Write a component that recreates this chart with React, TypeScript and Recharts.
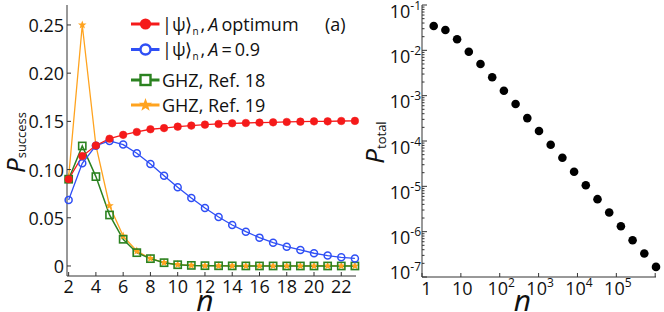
import React from 'react';
import { LineChart, Line, XAxis, YAxis, ScatterChart, Scatter, Legend, Label } from 'recharts';

// ---------- Panel (a) data ----------
const nValues = [2, 3, 4, 5, 6, 7, 8, 9, 10, 11, 12, 13, 14, 15, 16, 17, 18, 19, 20, 21, 22, 23];
const optimumValues = [0.090, 0.114, 0.125, 0.132, 0.136, 0.139, 0.1418, 0.143, 0.1445, 0.1456, 0.1466, 0.1473, 0.148, 0.1483, 0.1487, 0.149, 0.1494, 0.1497, 0.150, 0.150, 0.1504, 0.1505];
const a09Values = [0.0685, 0.1065, 0.1248, 0.1297, 0.1259, 0.117, 0.1058, 0.0937, 0.0816, 0.0705, 0.0602, 0.0508, 0.0425, 0.0356, 0.0294, 0.0242, 0.020, 0.0166, 0.0132, 0.0108, 0.009, 0.0078];
const ghz18Values = [0.090, 0.1245, 0.0927, 0.0529, 0.0277, 0.0138, 0.0076, 0.0034, 0.0013, 0.0006, 0.0003, 0.0002, 0.0001, 0.00005, 0.00003, 0.00002, 0.00001, 0, 0, 0, 0, 0];
const ghz19Values = [0.092, 0.25, 0.125, 0.0625, 0.031, 0.0155, 0.0078, 0.0035, 0.0014, 0.0006, 0.0003, 0.0002, 0.0001, 0.00005, 0.00003, 0.00002, 0.00001, 0, 0, 0, 0, 0];
const nTicks = [2, 4, 6, 8, 10, 12, 14, 16, 18, 20, 22];
const pTicks = [0, 0.05, 0.1, 0.15, 0.2, 0.25];
const pTickLabels = ['0', '0.05', '0.10', '0.15', '0.20', '0.25'];

// ---------- Panel (b) data ----------
const totalN = [2, 4, 8, 16, 32, 64, 128, 256, 512, 1024, 2048, 4096, 8192, 16384, 32768, 65536, 131072, 262144, 524288, 1048576];
const totalP = [0.0343, 0.0281, 0.0175, 0.0093, 0.00499, 0.00254, 0.00128, 6.53e-4, 3.2e-4, 1.66e-4, 8.25e-5, 4.26e-5, 2.09e-5, 1.06e-5, 5.21e-6, 2.65e-6, 1.32e-6, 6.49e-7, 3.3e-7, 1.67e-7];
const logXTicks = [1, 10, 100, 1000, 10000, 100000, 1000000];
const logXBase = ['1', '10', '10', '10', '10', '10', ''];
const logXExp = ['', '', '2', '3', '4', '5', ''];
const logYDecades = [1e-7, 1e-6, 1e-5, 1e-4, 1e-3, 1e-2, 1e-1];
const logYExp = ['-7', '-6', '-5', '-4', '-3', '-2', '-1'];
const minorMult = [2, 3, 4, 5, 6, 7, 8, 9];

const legendLabels = ['|ψ⟩n , A optimum', '|ψ⟩n , A = 0.9', 'GHZ, Ref. 18', 'GHZ, Ref. 19'];

const RED = '#f51a1a';
const BLUE = '#2f4ff5';
const GREEN = '#2b8220';
const ORANGE = '#ffa31f';
const AX = '#333';
const FONT = "'Open Sans', sans-serif";

const tableA = nValues.map((n, i) => ({
  n,
  opt: optimumValues[i],
  a09: a09Values[i],
  g18: ghz18Values[i],
  g19: ghz19Values[i],
}));
const tableB = totalN.map((n, i) => ({ n, p: totalP[i] }));
const logYTicks: number[] = [];
logYDecades.forEach((d, i) => {
  logYTicks.push(d);
  if (i < logYDecades.length - 1) minorMult.forEach((m) => logYTicks.push(d * m));
});

function starPoints(cx: number, cy: number, ro: number, ri: number) {
  const pts: string[] = [];
  for (let k = 0; k < 10; k++) {
    const r = k % 2 === 0 ? ro : ri;
    const a = -Math.PI / 2 + (k * Math.PI) / 5;
    pts.push(`${cx + r * Math.cos(a)},${cy + r * Math.sin(a)}`);
  }
  return pts.join(' ');
}

// ---------- ticks ----------
const LeftYTick = (p: any) => {
  const idx = pTicks.findIndex((t) => Math.abs(t - p.payload.value) < 1e-9);
  return (
    <g>
      <line x1={p.x} y1={p.y} x2={p.x + 4} y2={p.y} stroke={AX} strokeWidth={1} />
      <text x={p.x - 3} y={p.y + 7} textAnchor="end" fontFamily={FONT} fontSize={18} fill="#111">
        {pTickLabels[idx]}
      </text>
    </g>
  );
};
const RightYTick = (p: any) => <line x1={p.x} y1={p.y} x2={p.x - 4} y2={p.y} stroke={AX} strokeWidth={1} />;
const BottomXTick = (p: any) => (
  <g>
    <line x1={p.x} y1={p.y} x2={p.x} y2={p.y - 4} stroke={AX} strokeWidth={1} />
    <text x={p.x} y={p.y + 16.5} textAnchor="middle" fontFamily={FONT} fontSize={18} fill="#111">
      {p.payload.value}
    </text>
  </g>
);
const TopXTick = (p: any) => <line x1={p.x} y1={p.y} x2={p.x} y2={p.y + 4} stroke={AX} strokeWidth={1} />;

const isDecade = (v: number) => logYDecades.some((d) => Math.abs(v / d - 1) < 1e-6);

const LogYTickLeft = (p: any) => {
  const v = p.payload.value;
  const dec = isDecade(v);
  const di = logYDecades.findIndex((d) => Math.abs(v / d - 1) < 1e-6);
  const last = di === 0;
  return (
    <g>
      <line x1={p.x} y1={p.y} x2={p.x + (dec ? 5 : 2.5)} y2={p.y} stroke={AX} strokeWidth={1} />
      {dec && (
        <text x={p.x - 1} y={p.y + (last ? 2 : 12.5)} textAnchor="end" fontFamily={FONT} fontSize={18} fill="#111">
          10<tspan fontSize={12} dy={-8}>{logYExp[di]}</tspan>
        </text>
      )}
    </g>
  );
};
const LogYTickRight = (p: any) => {
  const dec = isDecade(p.payload.value);
  return <line x1={p.x} y1={p.y} x2={p.x - (dec ? 5 : 2.5)} y2={p.y} stroke={AX} strokeWidth={1} />;
};
const LogXTickBottom = (p: any) => {
  const i = logXTicks.findIndex((t) => Math.abs(p.payload.value / t - 1) < 1e-6);
  const cx = i === 0 ? p.x + 4.5 : p.x + (logXExp[i] ? 1.5 : 1.5);
  return (
    <g>
      <line x1={p.x} y1={p.y} x2={p.x} y2={p.y - 4} stroke={AX} strokeWidth={1} />
      {logXBase[i] && (
        <text x={cx} y={p.y + 18} textAnchor="middle" fontFamily={FONT} fontSize={18} fill="#111">
          {logXBase[i]}
          {logXExp[i] && <tspan fontSize={12} dy={-8}>{logXExp[i]}</tspan>}
        </text>
      )}
    </g>
  );
};
const LogXTickTop = (p: any) => <line x1={p.x} y1={p.y} x2={p.x} y2={p.y + 4} stroke={AX} strokeWidth={1} />;

// ---------- dots ----------
const RedDot = (p: any) => <circle key={`r${p.index}`} cx={p.cx} cy={p.cy} r={3.8} fill={RED} stroke={RED} strokeWidth={0.5} />;
const BlueDot = (p: any) => <circle key={`b${p.index}`} cx={p.cx} cy={p.cy} r={3.5} fill="none" stroke={BLUE} strokeWidth={1.5} />;
const GreenDot = (p: any) => (
  <rect key={`g${p.index}`} x={p.cx - 3.6} y={p.cy - 3.6} width={7.2} height={7.2} fill="none" stroke={GREEN} strokeWidth={1.6} />
);
const OrangeDot = (p: any) => <polygon key={`o${p.index}`} points={starPoints(p.cx, p.cy, 4.5, 1.9)} fill={ORANGE} />;

// ---------- legend ----------
const LegendA = () => {
  const rows = [24, 49.5, 80, 105];
  const colors = [RED, BLUE, GREEN, ORANGE];
  const mx = 145.5;
  return (
    <svg width={360} height={120} style={{ display: 'block', overflow: 'visible' }}>
      {rows.map((y, i) => (
        <line key={`l${i}`} x1={131} x2={159.5} y1={y} y2={y} stroke={colors[i]} strokeWidth={3} />
      ))}
      <circle cx={mx} cy={rows[0]} r={5.6} fill={RED} />
      <circle cx={mx} cy={rows[1]} r={5} fill="white" stroke={BLUE} strokeWidth={2.4} />
      <rect x={mx - 5} y={rows[2] - 5} width={10} height={10} fill="white" stroke={GREEN} strokeWidth={2.4} />
      <polygon points={starPoints(mx, rows[3], 7, 2.9)} fill={ORANGE} />
      <text x={162} y={rows[0] + 6.5} fontFamily={FONT} fontSize={18} fill="#111">
        <tspan>|ψ⟩</tspan>
        <tspan fontSize={10} dy={4}>n</tspan>
        <tspan dy={-4} dx={2}>,</tspan>
        <tspan dx={3} fontStyle="italic">A</tspan>
        <tspan dx={3}>optimum</tspan>
      </text>
      <text x={162} y={rows[1] + 6.5} fontFamily={FONT} fontSize={18} fill="#111">
        <tspan>|ψ⟩</tspan>
        <tspan fontSize={10} dy={4}>n</tspan>
        <tspan dy={-4} dx={2}>,</tspan>
        <tspan dx={3} fontStyle="italic">A</tspan>
        <tspan dx={3}>=</tspan>
        <tspan dx={3}>0.9</tspan>
      </text>
      <text x={162} y={rows[2] + 6.5} fontFamily={FONT} fontSize={18} fill="#111">{legendLabels[2]}</text>
      <text x={162} y={rows[3] + 6.5} fontFamily={FONT} fontSize={18} fill="#111">{legendLabels[3]}</text>
      <text x={325} y={30.5} fontFamily={FONT} fontSize={18} fill="#111">(a)</text>
    </svg>
  );
};

export default function App() {
  return (
    <div style={{ position: 'absolute', left: 0, top: 0, width: 664, height: 312, background: '#fff', overflow: 'hidden' }}>
      <div style={{ position: 'absolute', left: 0, top: 0 }}>
        <LineChart width={360} height={312} data={tableA} margin={{ top: 5, right: 4, bottom: 0, left: 0 }}>
          <XAxis
            dataKey="n"
            type="number"
            domain={[1.88, 23.08]}
            ticks={nTicks}
            interval={0}
            height={36}
            tickSize={0}
            tickMargin={0}
            tickLine={false}
            stroke={AX}
            tick={BottomXTick}
          >
            <Label
              content={() => (
                <text x={205} y={311} textAnchor="middle" fontFamily={FONT} fontStyle="italic" fontSize={30} fill="#111">
                  n
                </text>
              )}
            />
          </XAxis>
          <XAxis
            xAxisId="top"
            orientation="top"
            type="number"
            domain={[1.88, 23.08]}
            ticks={nTicks}
            interval={0}
            height={0}
            tickSize={0}
            tickMargin={0}
            tickLine={false}
            stroke={AX}
            tick={TopXTick}
          />
          <YAxis
            type="number"
            domain={[-0.0104, 0.2707]}
            ticks={pTicks}
            interval={0}
            width={67}
            tickSize={0}
            tickMargin={0}
            tickLine={false}
            stroke={AX}
            tick={LeftYTick}
          >
            <Label
              content={() => (
                <text
                  x={25}
                  y={142.5}
                  transform="rotate(-90 25 142.5)"
                  textAnchor="middle"
                  fontFamily={FONT}
                  fill="#111"
                >
                  <tspan fontStyle="italic" fontSize={26}>P</tspan>
                  <tspan fontSize={13} dy={1}>success</tspan>
                </text>
              )}
            />
          </YAxis>
          <YAxis
            yAxisId="right"
            orientation="right"
            type="number"
            domain={[-0.0104, 0.2707]}
            ticks={pTicks}
            interval={0}
            width={0}
            tickSize={0}
            tickMargin={0}
            tickLine={false}
            stroke={AX}
            tick={RightYTick}
          />
          <Line dataKey="g19" stroke={ORANGE} strokeWidth={1.3} dot={OrangeDot} isAnimationActive={false} />
          <Line dataKey="g18" stroke={GREEN} strokeWidth={1.5} dot={GreenDot} isAnimationActive={false} />
          <Line dataKey="a09" stroke={BLUE} strokeWidth={1.3} dot={BlueDot} isAnimationActive={false} />
          <Line dataKey="opt" stroke={RED} strokeWidth={1.3} dot={RedDot} isAnimationActive={false} />
          <Legend
            layout="vertical"
            align="center"
            verticalAlign="middle"
            width={360}
            height={120}
            wrapperStyle={{ left: 0, top: 0, width: 360, height: 120, pointerEvents: 'none' }}
            content={LegendA}
          />
        </LineChart>
      </div>
      <div style={{ position: 'absolute', left: 360, top: 0 }}>
        <ScatterChart width={304} height={312} margin={{ top: 5, right: 8, bottom: 0, left: 0 }}>
          <XAxis
            dataKey="n"
            type="number"
            scale="log"
            domain={[1, 1048576]}
            ticks={logXTicks}
            interval={0}
            height={35}
            tickSize={0}
            tickMargin={0}
            tickLine={false}
            stroke={AX}
            tick={LogXTickBottom}
          >
            <Label
              content={() => (
                <text x={162.5} y={311} textAnchor="middle" fontFamily={FONT} fontStyle="italic" fontSize={30} fill="#111">
                  n
                </text>
              )}
            />
          </XAxis>
          <XAxis
            xAxisId="top"
            orientation="top"
            type="number"
            scale="log"
            domain={[1, 1048576]}
            ticks={logXTicks}
            interval={0}
            height={0}
            tickSize={0}
            tickMargin={0}
            tickLine={false}
            stroke={AX}
            tick={LogXTickTop}
          >
            <Label
              content={() => (
                <text x={263} y={27} fontFamily={FONT} fontSize={18} fill="#111">
                  (b)
                </text>
              )}
            />
          </XAxis>
          <YAxis
            dataKey="p"
            type="number"
            scale="log"
            domain={[1e-7, 1e-1]}
            ticks={logYTicks}
            interval={0}
            width={62}
            tickSize={0}
            tickMargin={0}
            tickLine={false}
            stroke={AX}
            tick={LogYTickLeft}
          >
            <Label
              content={() => (
                <text
                  x={24}
                  y={142.5}
                  transform="rotate(-90 24 142.5)"
                  textAnchor="middle"
                  fontFamily={FONT}
                  fill="#111"
                >
                  <tspan fontStyle="italic" fontSize={26}>P</tspan>
                  <tspan fontSize={13} dy={2}>total</tspan>
                </text>
              )}
            />
          </YAxis>
          <YAxis
            yAxisId="right"
            orientation="right"
            type="number"
            scale="log"
            domain={[1e-7, 1e-1]}
            ticks={logYTicks}
            interval={0}
            width={0}
            tickSize={0}
            tickMargin={0}
            tickLine={false}
            stroke={AX}
            tick={LogYTickRight}
          />
          <Scatter
            data={tableB}
            fill="#000"
            isAnimationActive={false}
            shape={(p: any) => <circle cx={p.cx} cy={p.cy} r={4.3} fill="#000" />}
          />
        </ScatterChart>
      </div>
    </div>
  );
}
